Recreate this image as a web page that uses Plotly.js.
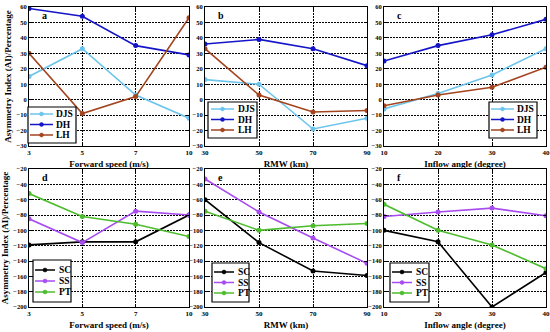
<!DOCTYPE html>
<html><head><meta charset="utf-8">
<script src="https://cdn.plot.ly/plotly-3.0.1.min.js"></script>
<style>html,body{margin:0;padding:0;background:#fff}#c{width:550px;height:332px}</style>
</head><body><div id="c"></div>
<script>
// categories
const xA = ['3','5','7','10'];
const xB = ['30','50','70','90'];
const xC = ['10','20','30','40'];
// top row
const aDJS = [15, 33, 3, -12];
const aDH  = [59, 54, 35, 29];
const aLH  = [30, -9, 2, 53];
const bDJS = [13, 10, -19, -12];
const bDH  = [36, 39, 33, 22];
const bLH  = [33, 3, -8, -7];
const cDJS = [-6, 4, 16, 33];
const cDH  = [25, 35, 42, 52];
const cLH  = [-4, 3, 8, 21];
// bottom row
const dSC = [-119, -115, -115, -80];
const dSS = [-85, -116, -75, -80];
const dPT = [-52, -82, -92, -108];
const eSC = [-60, -116, -153, -159];
const eSS = [-33, -76, -110, -143];
const ePT = [-75, -100, -94, -91];
const fSC = [-100, -115, -200, -155];
const fSS = [-82, -76, -71, -81];
const fPT = [-66, -100, -119, -150];
const xTitles = ['Forward speed (m/s)','RMW (km)','Inflow angle (degree)'];
const yTitle = 'Asymmetry Index (AI)/Percentage';
const letters = ['a','b','c','d','e','f'];
const topNames = ['DJS','DH','LH'];
const botNames = ['SC','SS','PT'];

const col = {DJS:'#6cc4ec', DH:'#1414c8', LH:'#a3441e', SC:'#000000', SS:'#a64cf0', PT:'#4cbc2c'};
const F = 'Liberation Serif, Times New Roman, serif';
const W = 550, H = 332;
const B = s => '<b>'+s+'</b>';

const traces = [];
function add(x, y, name, ax) {
  traces.push({x:x, y:y, name:name, type:'scatter', mode:'lines+markers', showlegend:false,
    xaxis:'x'+(ax===1?'':ax), yaxis:'y'+(ax===1?'':ax),
    line:{color:col[name], width:1.6}, marker:{color:col[name], size:5, symbol:'circle'}});
}
add(xA,aDJS,'DJS',1); add(xA,aDH,'DH',1); add(xA,aLH,'LH',1);
add(xB,bDJS,'DJS',2); add(xB,bDH,'DH',2); add(xB,bLH,'LH',2);
add(xC,cDJS,'DJS',3); add(xC,cDH,'DH',3); add(xC,cLH,'LH',3);
add(xA,dSC,'SC',4); add(xA,dSS,'SS',4); add(xA,dPT,'PT',4);
add(xB,eSC,'SC',5); add(xB,eSS,'SS',5); add(xB,ePT,'PT',5);
add(xC,fSC,'SC',6); add(xC,fSS,'SS',6); add(xC,fPT,'PT',6);

const xd = [[29/W,189/W],[205/W,367/W],[384/W,546/W]];
const yd = [[1-146/H,1-7/H],[1-307/H,1-169/H]];
const layout = {width:W, height:H, margin:{l:0,r:0,t:0,b:0}, paper_bgcolor:'#fff', plot_bgcolor:'#fff',
  font:{family:F, color:'#000'}, showlegend:false, annotations:[], shapes:[]};
for (let i=1;i<=6;i++){
  const c=(i-1)%3, r=i<=3?0:1;
  const top = r===0;
  const xs = i===1?'':i;
  const cats = [xA,xB,xC][c];
  layout['xaxis'+xs] = {type:'category', domain:xd[c], anchor:'y'+xs, range:[0,3],
    tickvals:cats, ticktext:cats.map(B),
    showgrid:true, gridcolor:'#000', griddash:'1.5px,1.5px', gridwidth:1,
    showline:true, linecolor:'#000', linewidth:1, mirror:'ticks', ticks:'inside', ticklen:3, tickcolor:'#000',
    tickfont:{family:F, size:7}, zeroline:false,
    title:{text:B(xTitles[c]), font:{family:F, size:9}, standoff:4}, automargin:false};
  const tv = []; for (let v = top?-30:-200; v <= (top?60:-20); v += top?10:20) tv.push(v);
  layout['yaxis'+xs] = {domain:yd[r], anchor:'x'+xs, range: top?[-30,60]:[-200,-20],
    tickvals:tv, ticktext:tv.map(v=>B(v<0?'\u2212'+(-v):String(v))),
    showgrid:true, gridcolor:'#000', griddash:'1.5px,1.5px', gridwidth:1,
    showline:true, linecolor:'#000', linewidth:1, mirror:'ticks', ticks:'inside', ticklen:3, tickcolor:'#000',
    tickfont:{family:F, size:6.5}, zeroline:false, automargin:false,
    title: c===0?{text:B(yTitle), font:{family:F, size:9}, standoff:3}:{text:''}};
  layout.annotations.push({xref:'x'+xs+' domain', yref:'y'+xs+' domain', x:0.07, y:0.99, xanchor:'left', yanchor:'top',
    text:B(letters[i-1]), showarrow:false, font:{family:F, size:10}});
}
// hand-built legends: [left, top, right, bottom, rowY0, rowStep, lineX0, lineX1, textX]
const lg = [
  [28,107,76,143, 114,10.5, 30,53,54],
  [208,102,257,138, 109,10.5, 211,234,236],
  [489,102,537,138, 109,10.5, 491,514,515],
  [33,260,71,302, 270,11, 35,55,57],
  [212,263,249,302, 272,10.5, 214,234,236],
  [390,263,429,302, 272,10.5, 392,412,414]
];
const px = v => v/W, py = v => 1-v/H;
lg.forEach((g,k)=>{
  const names = k<3?topNames:botNames;
  layout.shapes.push({type:'rect', xref:'paper', yref:'paper', x0:px(g[0]), x1:px(g[2]), y0:py(g[3]), y1:py(g[1]),
    line:{color:'#000', width:1.2}, fillcolor:'#fff', layer:'above'});
  names.forEach((n,j)=>{
    const yy = g[4]+j*g[5];
    const mx = (g[6]+g[7])/2;
    layout.shapes.push({type:'line', xref:'paper', yref:'paper', x0:px(g[6]), x1:px(g[7]), y0:py(yy), y1:py(yy),
      line:{color:col[n], width:1.5}, layer:'above'});
    layout.shapes.push({type:'circle', xref:'paper', yref:'paper', x0:px(mx-2), x1:px(mx+2), y0:py(yy+2), y1:py(yy-2),
      line:{color:col[n], width:0.5}, fillcolor:col[n], layer:'above'});
    layout.annotations.push({xref:'paper', yref:'paper', x:px(g[8]), y:py(yy), xanchor:'left', yanchor:'middle',
      text:B(n), showarrow:false, font:{family:F, size:9.5}});
  });
});
Plotly.newPlot('c', traces, layout, {staticPlot:true, displayModeBar:false});
</script></body></html>
